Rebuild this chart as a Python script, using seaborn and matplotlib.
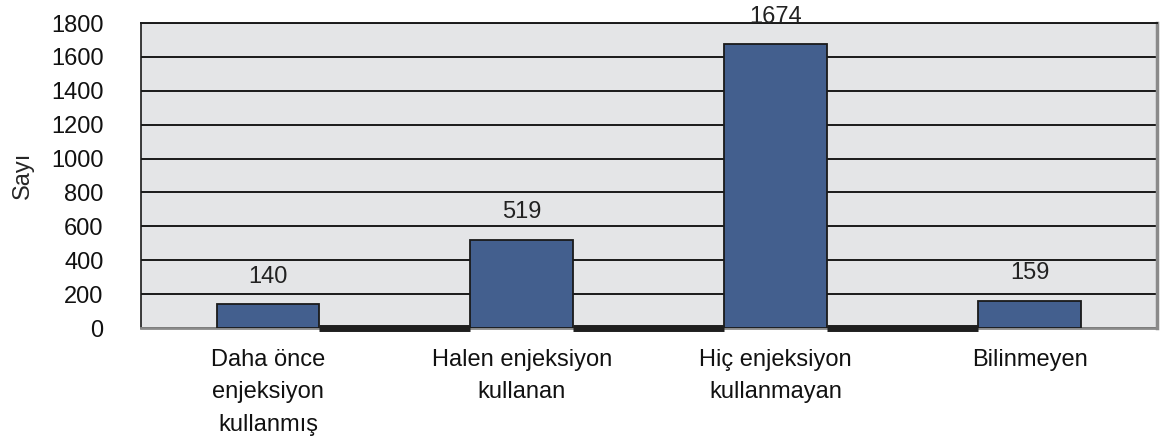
import matplotlib
matplotlib.use("Agg")
import matplotlib.pyplot as plt
import seaborn as sns
import pandas as pd

categories = ["Daha önce\nenjeksiyon\nkullanmış", "Halen enjeksiyon\nkullanan",
              "Hiç enjeksiyon\nkullanmayan", "Bilinmeyen"]
counts = [140, 519, 1674, 159]
yticks = [0, 200, 400, 600, 800, 1000, 1200, 1400, 1600, 1800]

sns.set_style("white")
plt.rcParams["font.family"] = ["Liberation Sans", "DejaVu Sans"]

df = pd.DataFrame({"grup": categories, "sayi": counts})

fig = plt.figure(figsize=(11.6, 4.4), dpi=100)
ax = fig.add_axes([0.1216, 0.2545, 0.8754, 0.6932])
ax.set_facecolor("#e4e5e7")

bar_w = 0.405
sns.barplot(data=df, x="grup", y="sayi", color="#435f8e", saturation=1,
            width=bar_w, edgecolor="#1a1a1a", linewidth=1.3, ax=ax, zorder=3)

ax.set_ylim(0, 1800)
ax.set_xlim(-0.5, len(categories) - 0.5)
ax.set_yticks(yticks)
ax.yaxis.grid(True, color="#1a1a1a", linewidth=1.4, zorder=1)
ax.set_axisbelow(True)

for i, v in enumerate(counts):
    ax.annotate(str(v), (i, v), xytext=(0, 20), textcoords="offset points",
                ha="center", va="center", fontsize=17, color="#222222",
                annotation_clip=False)

# dark floor segments between the bars
for i in range(len(categories) - 1):
    ax.plot([i + bar_w / 2, i + 1 - bar_w / 2], [0, 0], color="#1e1e1e",
            linewidth=5, solid_capstyle="butt", clip_on=False, zorder=4)

ax.spines["left"].set_color("#1a1a1a")
ax.spines["left"].set_linewidth(1.2)
ax.spines["top"].set_color("#1a1a1a")
ax.spines["top"].set_linewidth(1.4)
ax.spines["right"].set_color("#8a8a8a")
ax.spines["right"].set_linewidth(2.5)
ax.spines["bottom"].set_color("#8a8a8a")
ax.spines["bottom"].set_linewidth(2)

ax.tick_params(axis="y", labelsize=17, length=0, pad=27, colors="#111111")
ax.tick_params(axis="x", labelsize=17, length=0, pad=15, colors="#111111")
for lab in ax.get_xticklabels():
    lab.set_linespacing(1.62)
    lab.set_va("top")
ax.set_xlabel("")
ax.set_ylabel("Sayı", fontsize=17, labelpad=12)

fig.savefig("out.png", dpi=100)
